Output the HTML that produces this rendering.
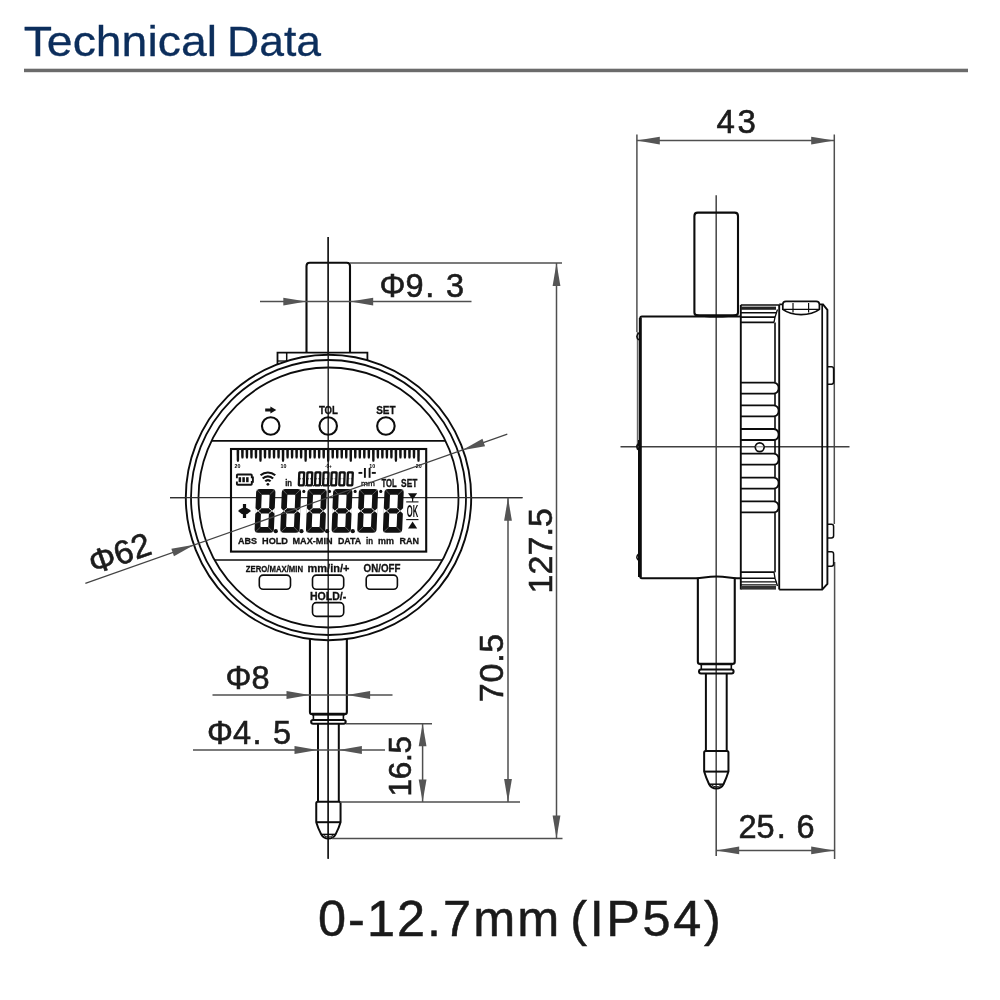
<!DOCTYPE html>
<html><head><meta charset="utf-8"><title>Technical Data</title>
<style>
html,body{margin:0;padding:0;background:#fff;}
body{width:1000px;height:1000px;overflow:hidden;font-family:"Liberation Sans",sans-serif;}
svg{display:block;font-family:"Liberation Sans",sans-serif;will-change:transform;}
</style></head><body>
<svg width="1000" height="1000" viewBox="0 0 1000 1000">
<text x="23.70" y="56.20" font-size="42.2" font-weight="normal" fill="#0c2e5c" text-anchor="start" textLength="193.3" lengthAdjust="spacingAndGlyphs" stroke="#0c2e5c" stroke-width="0.3">Technical</text>
<text x="227.00" y="56.20" font-size="42.2" font-weight="normal" fill="#0c2e5c" text-anchor="start" textLength="94.0" lengthAdjust="spacingAndGlyphs" stroke="#0c2e5c" stroke-width="0.3">Data</text>
<rect x="24" y="68.7" width="944" height="3.5" fill="#6b6b6b"/>
<text x="318.00" y="936.20" font-size="50.4" font-weight="normal" fill="#1a1a1a" text-anchor="start" textLength="241.2" lengthAdjust="spacing" stroke="#1a1a1a" stroke-width="0.5">0-12.7mm</text>
<text x="570.20" y="936.20" font-size="50.4" font-weight="normal" fill="#1a1a1a" text-anchor="start" textLength="150.6" lengthAdjust="spacing" stroke="#1a1a1a" stroke-width="0.5">(IP54)</text>
<line x1="328.20" y1="237.00" x2="328.20" y2="858.70" stroke="#1a1a1a" stroke-width="1.4" />
<line x1="170.00" y1="497.60" x2="522.50" y2="497.60" stroke="#303030" stroke-width="1.45" />
<path d="M306.5,352.3 V266 Q306.5,262.8 309.7,262.8 H346.8 Q350,262.8 350,266 V352.3" fill="none" stroke="#0c0c0c" stroke-width="2.1" />
<path d="M277.5,364 V352.6 H367.4 V361" fill="none" stroke="#0c0c0c" stroke-width="1.8" />
<line x1="286.70" y1="352.60" x2="286.70" y2="362.00" stroke="#0c0c0c" stroke-width="1.5" />
<line x1="277.50" y1="361.00" x2="286.00" y2="361.00" stroke="#0c0c0c" stroke-width="1.3" />
<circle cx="328.50" cy="497.50" r="142.70" fill="#fff" stroke="#0c0c0c" stroke-width="1.9"/>
<circle cx="328.50" cy="497.50" r="137.50" fill="none" stroke="#0c0c0c" stroke-width="1.8"/>
<circle cx="328.50" cy="497.50" r="130.00" fill="none" stroke="#0c0c0c" stroke-width="1.8"/>
<line x1="328.20" y1="237.00" x2="328.20" y2="858.70" stroke="#1a1a1a" stroke-width="1.4" />
<line x1="170.00" y1="497.60" x2="522.50" y2="497.60" stroke="#303030" stroke-width="1.45" />
<line x1="211.52" y1="440.80" x2="445.48" y2="440.80" stroke="#0c0c0c" stroke-width="1.7" />
<line x1="214.51" y1="560.00" x2="442.49" y2="560.00" stroke="#0c0c0c" stroke-width="1.7" />
<circle cx="270.70" cy="426.00" r="8.75" fill="none" stroke="#0c0c0c" stroke-width="2.1"/>
<circle cx="328.20" cy="426.00" r="8.75" fill="none" stroke="#0c0c0c" stroke-width="2.1"/>
<circle cx="385.90" cy="426.00" r="8.75" fill="none" stroke="#0c0c0c" stroke-width="2.1"/>
<text x="318.90" y="413.90" font-size="11.2" font-weight="bold" fill="#111" text-anchor="start" textLength="19.1" lengthAdjust="spacingAndGlyphs" stroke="#111" stroke-width="0.3">TOL</text>
<text x="376.20" y="413.90" font-size="11.2" font-weight="bold" fill="#111" text-anchor="start" textLength="19.4" lengthAdjust="spacingAndGlyphs" stroke="#111" stroke-width="0.3">SET</text>
<polygon points="265.20,408.40 270.40,408.40 270.40,406.40 276.30,410.00 270.40,413.60 270.40,411.60 265.20,411.60" fill="#111" stroke="none" stroke-width="0"/>
<rect x="231.00" y="449.00" width="195.20" height="102.60" rx="0" fill="none" stroke="#0c0c0c" stroke-width="2.1"/>
<polygon points="236.60,449.00 239.20,449.00 239.10,460.10 238.70,461.70 237.10,461.70 236.70,460.10" fill="#111" stroke="none" stroke-width="0"/>
<polygon points="241.11,449.00 243.72,449.00 243.61,457.00 243.22,458.60 241.61,458.60 241.22,457.00" fill="#111" stroke="none" stroke-width="0"/>
<polygon points="245.63,449.00 248.23,449.00 248.13,457.00 247.73,458.60 246.13,458.60 245.73,457.00" fill="#111" stroke="none" stroke-width="0"/>
<polygon points="250.14,449.00 252.75,449.00 252.64,457.00 252.25,458.60 250.64,458.60 250.25,457.00" fill="#111" stroke="none" stroke-width="0"/>
<polygon points="254.66,449.00 257.26,449.00 257.16,457.00 256.76,458.60 255.16,458.60 254.76,457.00" fill="#111" stroke="none" stroke-width="0"/>
<polygon points="259.18,449.00 261.78,449.00 261.68,460.10 261.28,461.70 259.68,461.70 259.28,460.10" fill="#111" stroke="none" stroke-width="0"/>
<polygon points="263.69,449.00 266.29,449.00 266.19,457.00 265.79,458.60 264.19,458.60 263.79,457.00" fill="#111" stroke="none" stroke-width="0"/>
<polygon points="268.20,449.00 270.81,449.00 270.70,457.00 270.31,458.60 268.70,458.60 268.31,457.00" fill="#111" stroke="none" stroke-width="0"/>
<polygon points="272.72,449.00 275.32,449.00 275.22,457.00 274.82,458.60 273.22,458.60 272.82,457.00" fill="#111" stroke="none" stroke-width="0"/>
<polygon points="277.24,449.00 279.84,449.00 279.74,457.00 279.34,458.60 277.74,458.60 277.34,457.00" fill="#111" stroke="none" stroke-width="0"/>
<polygon points="281.75,449.00 284.35,449.00 284.25,460.10 283.85,461.70 282.25,461.70 281.85,460.10" fill="#111" stroke="none" stroke-width="0"/>
<polygon points="286.26,449.00 288.87,449.00 288.76,457.00 288.37,458.60 286.76,458.60 286.37,457.00" fill="#111" stroke="none" stroke-width="0"/>
<polygon points="290.78,449.00 293.38,449.00 293.28,457.00 292.88,458.60 291.28,458.60 290.88,457.00" fill="#111" stroke="none" stroke-width="0"/>
<polygon points="295.30,449.00 297.90,449.00 297.80,457.00 297.40,458.60 295.80,458.60 295.40,457.00" fill="#111" stroke="none" stroke-width="0"/>
<polygon points="299.81,449.00 302.41,449.00 302.31,457.00 301.91,458.60 300.31,458.60 299.91,457.00" fill="#111" stroke="none" stroke-width="0"/>
<polygon points="304.32,449.00 306.93,449.00 306.82,460.10 306.43,461.70 304.82,461.70 304.43,460.10" fill="#111" stroke="none" stroke-width="0"/>
<polygon points="308.84,449.00 311.44,449.00 311.34,457.00 310.94,458.60 309.34,458.60 308.94,457.00" fill="#111" stroke="none" stroke-width="0"/>
<polygon points="313.35,449.00 315.95,449.00 315.85,457.00 315.45,458.60 313.85,458.60 313.45,457.00" fill="#111" stroke="none" stroke-width="0"/>
<polygon points="317.87,449.00 320.47,449.00 320.37,457.00 319.97,458.60 318.37,458.60 317.97,457.00" fill="#111" stroke="none" stroke-width="0"/>
<polygon points="322.38,449.00 324.99,449.00 324.88,457.00 324.49,458.60 322.88,458.60 322.49,457.00" fill="#111" stroke="none" stroke-width="0"/>
<polygon points="326.90,449.00 329.50,449.00 329.40,460.10 329.00,461.70 327.40,461.70 327.00,460.10" fill="#111" stroke="none" stroke-width="0"/>
<polygon points="331.42,449.00 334.02,449.00 333.92,457.00 333.52,458.60 331.92,458.60 331.52,457.00" fill="#111" stroke="none" stroke-width="0"/>
<polygon points="335.93,449.00 338.53,449.00 338.43,457.00 338.03,458.60 336.43,458.60 336.03,457.00" fill="#111" stroke="none" stroke-width="0"/>
<polygon points="340.44,449.00 343.05,449.00 342.94,457.00 342.55,458.60 340.94,458.60 340.55,457.00" fill="#111" stroke="none" stroke-width="0"/>
<polygon points="344.96,449.00 347.56,449.00 347.46,457.00 347.06,458.60 345.46,458.60 345.06,457.00" fill="#111" stroke="none" stroke-width="0"/>
<polygon points="349.47,449.00 352.07,449.00 351.97,460.10 351.57,461.70 349.97,461.70 349.57,460.10" fill="#111" stroke="none" stroke-width="0"/>
<polygon points="353.99,449.00 356.59,449.00 356.49,457.00 356.09,458.60 354.49,458.60 354.09,457.00" fill="#111" stroke="none" stroke-width="0"/>
<polygon points="358.50,449.00 361.11,449.00 361.00,457.00 360.61,458.60 359.00,458.60 358.61,457.00" fill="#111" stroke="none" stroke-width="0"/>
<polygon points="363.02,449.00 365.62,449.00 365.52,457.00 365.12,458.60 363.52,458.60 363.12,457.00" fill="#111" stroke="none" stroke-width="0"/>
<polygon points="367.54,449.00 370.14,449.00 370.04,457.00 369.64,458.60 368.04,458.60 367.64,457.00" fill="#111" stroke="none" stroke-width="0"/>
<polygon points="372.05,449.00 374.65,449.00 374.55,460.10 374.15,461.70 372.55,461.70 372.15,460.10" fill="#111" stroke="none" stroke-width="0"/>
<polygon points="376.56,449.00 379.17,449.00 379.06,457.00 378.67,458.60 377.06,458.60 376.67,457.00" fill="#111" stroke="none" stroke-width="0"/>
<polygon points="381.08,449.00 383.68,449.00 383.58,457.00 383.18,458.60 381.58,458.60 381.18,457.00" fill="#111" stroke="none" stroke-width="0"/>
<polygon points="385.59,449.00 388.19,449.00 388.09,457.00 387.69,458.60 386.09,458.60 385.69,457.00" fill="#111" stroke="none" stroke-width="0"/>
<polygon points="390.11,449.00 392.71,449.00 392.61,457.00 392.21,458.60 390.61,458.60 390.21,457.00" fill="#111" stroke="none" stroke-width="0"/>
<polygon points="394.62,449.00 397.22,449.00 397.12,460.10 396.72,461.70 395.12,461.70 394.72,460.10" fill="#111" stroke="none" stroke-width="0"/>
<polygon points="399.14,449.00 401.74,449.00 401.64,457.00 401.24,458.60 399.64,458.60 399.24,457.00" fill="#111" stroke="none" stroke-width="0"/>
<polygon points="403.65,449.00 406.25,449.00 406.15,457.00 405.75,458.60 404.15,458.60 403.75,457.00" fill="#111" stroke="none" stroke-width="0"/>
<polygon points="408.17,449.00 410.77,449.00 410.67,457.00 410.27,458.60 408.67,458.60 408.27,457.00" fill="#111" stroke="none" stroke-width="0"/>
<polygon points="412.69,449.00 415.29,449.00 415.19,457.00 414.79,458.60 413.19,458.60 412.79,457.00" fill="#111" stroke="none" stroke-width="0"/>
<polygon points="417.20,449.00 419.80,449.00 419.70,460.10 419.30,461.70 417.70,461.70 417.30,460.10" fill="#111" stroke="none" stroke-width="0"/>
<text x="237.40" y="468.30" font-size="5.3" font-weight="bold" fill="#000" text-anchor="middle" >20</text>
<text x="283.40" y="468.30" font-size="5.3" font-weight="bold" fill="#000" text-anchor="middle" >10</text>
<text x="372.30" y="468.30" font-size="5.3" font-weight="bold" fill="#000" text-anchor="middle" >10</text>
<text x="418.80" y="468.30" font-size="5.3" font-weight="bold" fill="#000" text-anchor="middle" >20</text>
<text x="328.40" y="468.20" font-size="4.6" font-weight="bold" fill="#000" text-anchor="middle" >-0+</text>
<g transform="translate(254.50 532.80) skewX(-2.29) translate(-254.50 -532.80)">
<rect x="254.50" y="489.00" width="19.30" height="43.80" rx="3.6" fill="#111"/>
<rect x="260.20" y="494.70" width="7.90" height="13.60" rx="0.8" fill="#fff"/>
<rect x="260.20" y="513.50" width="7.90" height="13.60" rx="0.8" fill="#fff"/>
<line x1="255.10" y1="489.60" x2="260.20" y2="494.70" stroke="#9a9a9a" stroke-width="0.5"/>
<line x1="273.20" y1="489.60" x2="268.10" y2="494.70" stroke="#9a9a9a" stroke-width="0.5"/>
<line x1="255.10" y1="532.20" x2="260.20" y2="527.10" stroke="#9a9a9a" stroke-width="0.5"/>
<line x1="273.20" y1="532.20" x2="268.10" y2="527.10" stroke="#9a9a9a" stroke-width="0.5"/>
<polygon points="254.30,508.05 257.35,510.90 254.30,513.75" fill="#fff" stroke="none" stroke-width="0"/>
<polygon points="274.00,508.05 270.95,510.90 274.00,513.75" fill="#fff" stroke="none" stroke-width="0"/>
<line x1="257.15" y1="510.90" x2="260.50" y2="508.10" stroke="#f4f4f4" stroke-width="0.85"/>
<line x1="257.15" y1="510.90" x2="260.50" y2="513.70" stroke="#f4f4f4" stroke-width="0.85"/>
<line x1="271.15" y1="510.90" x2="267.80" y2="508.10" stroke="#f4f4f4" stroke-width="0.85"/>
<line x1="271.15" y1="510.90" x2="267.80" y2="513.70" stroke="#f4f4f4" stroke-width="0.85"/>
</g>
<circle cx="275.80" cy="531.20" r="2.10" fill="#111" stroke="#0c0c0c" stroke-width="0"/>
<g transform="translate(280.16 532.80) skewX(-2.29) translate(-280.16 -532.80)">
<rect x="280.16" y="489.00" width="19.30" height="43.80" rx="3.6" fill="#111"/>
<rect x="285.86" y="494.70" width="7.90" height="13.60" rx="0.8" fill="#fff"/>
<rect x="285.86" y="513.50" width="7.90" height="13.60" rx="0.8" fill="#fff"/>
<line x1="280.76" y1="489.60" x2="285.86" y2="494.70" stroke="#9a9a9a" stroke-width="0.5"/>
<line x1="298.86" y1="489.60" x2="293.76" y2="494.70" stroke="#9a9a9a" stroke-width="0.5"/>
<line x1="280.76" y1="532.20" x2="285.86" y2="527.10" stroke="#9a9a9a" stroke-width="0.5"/>
<line x1="298.86" y1="532.20" x2="293.76" y2="527.10" stroke="#9a9a9a" stroke-width="0.5"/>
<polygon points="279.96,508.05 283.01,510.90 279.96,513.75" fill="#fff" stroke="none" stroke-width="0"/>
<polygon points="299.66,508.05 296.61,510.90 299.66,513.75" fill="#fff" stroke="none" stroke-width="0"/>
<line x1="282.81" y1="510.90" x2="286.16" y2="508.10" stroke="#f4f4f4" stroke-width="0.85"/>
<line x1="282.81" y1="510.90" x2="286.16" y2="513.70" stroke="#f4f4f4" stroke-width="0.85"/>
<line x1="296.81" y1="510.90" x2="293.46" y2="508.10" stroke="#f4f4f4" stroke-width="0.85"/>
<line x1="296.81" y1="510.90" x2="293.46" y2="513.70" stroke="#f4f4f4" stroke-width="0.85"/>
</g>
<circle cx="301.46" cy="531.20" r="2.10" fill="#111" stroke="#0c0c0c" stroke-width="0"/>
<g transform="translate(305.82 532.80) skewX(-2.29) translate(-305.82 -532.80)">
<rect x="305.82" y="489.00" width="19.30" height="43.80" rx="3.6" fill="#111"/>
<rect x="311.52" y="494.70" width="7.90" height="13.60" rx="0.8" fill="#fff"/>
<rect x="311.52" y="513.50" width="7.90" height="13.60" rx="0.8" fill="#fff"/>
<line x1="306.42" y1="489.60" x2="311.52" y2="494.70" stroke="#9a9a9a" stroke-width="0.5"/>
<line x1="324.52" y1="489.60" x2="319.42" y2="494.70" stroke="#9a9a9a" stroke-width="0.5"/>
<line x1="306.42" y1="532.20" x2="311.52" y2="527.10" stroke="#9a9a9a" stroke-width="0.5"/>
<line x1="324.52" y1="532.20" x2="319.42" y2="527.10" stroke="#9a9a9a" stroke-width="0.5"/>
<polygon points="305.62,508.05 308.67,510.90 305.62,513.75" fill="#fff" stroke="none" stroke-width="0"/>
<polygon points="325.32,508.05 322.27,510.90 325.32,513.75" fill="#fff" stroke="none" stroke-width="0"/>
<line x1="308.47" y1="510.90" x2="311.82" y2="508.10" stroke="#f4f4f4" stroke-width="0.85"/>
<line x1="308.47" y1="510.90" x2="311.82" y2="513.70" stroke="#f4f4f4" stroke-width="0.85"/>
<line x1="322.47" y1="510.90" x2="319.12" y2="508.10" stroke="#f4f4f4" stroke-width="0.85"/>
<line x1="322.47" y1="510.90" x2="319.12" y2="513.70" stroke="#f4f4f4" stroke-width="0.85"/>
</g>
<circle cx="327.12" cy="531.20" r="2.10" fill="#111" stroke="#0c0c0c" stroke-width="0"/>
<circle cx="303.82" cy="491.40" r="1.55" fill="#111" stroke="#0c0c0c" stroke-width="0"/>
<g transform="translate(331.48 532.80) skewX(-2.29) translate(-331.48 -532.80)">
<rect x="331.48" y="489.00" width="19.30" height="43.80" rx="3.6" fill="#111"/>
<rect x="337.18" y="494.70" width="7.90" height="13.60" rx="0.8" fill="#fff"/>
<rect x="337.18" y="513.50" width="7.90" height="13.60" rx="0.8" fill="#fff"/>
<line x1="332.08" y1="489.60" x2="337.18" y2="494.70" stroke="#9a9a9a" stroke-width="0.5"/>
<line x1="350.18" y1="489.60" x2="345.08" y2="494.70" stroke="#9a9a9a" stroke-width="0.5"/>
<line x1="332.08" y1="532.20" x2="337.18" y2="527.10" stroke="#9a9a9a" stroke-width="0.5"/>
<line x1="350.18" y1="532.20" x2="345.08" y2="527.10" stroke="#9a9a9a" stroke-width="0.5"/>
<polygon points="331.28,508.05 334.33,510.90 331.28,513.75" fill="#fff" stroke="none" stroke-width="0"/>
<polygon points="350.98,508.05 347.93,510.90 350.98,513.75" fill="#fff" stroke="none" stroke-width="0"/>
<line x1="334.13" y1="510.90" x2="337.48" y2="508.10" stroke="#f4f4f4" stroke-width="0.85"/>
<line x1="334.13" y1="510.90" x2="337.48" y2="513.70" stroke="#f4f4f4" stroke-width="0.85"/>
<line x1="348.13" y1="510.90" x2="344.78" y2="508.10" stroke="#f4f4f4" stroke-width="0.85"/>
<line x1="348.13" y1="510.90" x2="344.78" y2="513.70" stroke="#f4f4f4" stroke-width="0.85"/>
</g>
<circle cx="352.78" cy="531.20" r="2.10" fill="#111" stroke="#0c0c0c" stroke-width="0"/>
<circle cx="329.48" cy="491.40" r="1.55" fill="#111" stroke="#0c0c0c" stroke-width="0"/>
<g transform="translate(357.14 532.80) skewX(-2.29) translate(-357.14 -532.80)">
<rect x="357.14" y="489.00" width="19.30" height="43.80" rx="3.6" fill="#111"/>
<rect x="362.84" y="494.70" width="7.90" height="13.60" rx="0.8" fill="#fff"/>
<rect x="362.84" y="513.50" width="7.90" height="13.60" rx="0.8" fill="#fff"/>
<line x1="357.74" y1="489.60" x2="362.84" y2="494.70" stroke="#9a9a9a" stroke-width="0.5"/>
<line x1="375.84" y1="489.60" x2="370.74" y2="494.70" stroke="#9a9a9a" stroke-width="0.5"/>
<line x1="357.74" y1="532.20" x2="362.84" y2="527.10" stroke="#9a9a9a" stroke-width="0.5"/>
<line x1="375.84" y1="532.20" x2="370.74" y2="527.10" stroke="#9a9a9a" stroke-width="0.5"/>
<polygon points="356.94,508.05 359.99,510.90 356.94,513.75" fill="#fff" stroke="none" stroke-width="0"/>
<polygon points="376.64,508.05 373.59,510.90 376.64,513.75" fill="#fff" stroke="none" stroke-width="0"/>
<line x1="359.79" y1="510.90" x2="363.14" y2="508.10" stroke="#f4f4f4" stroke-width="0.85"/>
<line x1="359.79" y1="510.90" x2="363.14" y2="513.70" stroke="#f4f4f4" stroke-width="0.85"/>
<line x1="373.79" y1="510.90" x2="370.44" y2="508.10" stroke="#f4f4f4" stroke-width="0.85"/>
<line x1="373.79" y1="510.90" x2="370.44" y2="513.70" stroke="#f4f4f4" stroke-width="0.85"/>
</g>
<circle cx="355.14" cy="491.40" r="1.55" fill="#111" stroke="#0c0c0c" stroke-width="0"/>
<g transform="translate(382.80 532.80) skewX(-2.29) translate(-382.80 -532.80)">
<rect x="382.80" y="489.00" width="19.30" height="43.80" rx="3.6" fill="#111"/>
<rect x="388.50" y="494.70" width="7.90" height="13.60" rx="0.8" fill="#fff"/>
<rect x="388.50" y="513.50" width="7.90" height="13.60" rx="0.8" fill="#fff"/>
<line x1="383.40" y1="489.60" x2="388.50" y2="494.70" stroke="#9a9a9a" stroke-width="0.5"/>
<line x1="401.50" y1="489.60" x2="396.40" y2="494.70" stroke="#9a9a9a" stroke-width="0.5"/>
<line x1="383.40" y1="532.20" x2="388.50" y2="527.10" stroke="#9a9a9a" stroke-width="0.5"/>
<line x1="401.50" y1="532.20" x2="396.40" y2="527.10" stroke="#9a9a9a" stroke-width="0.5"/>
<polygon points="382.60,508.05 385.65,510.90 382.60,513.75" fill="#fff" stroke="none" stroke-width="0"/>
<polygon points="402.30,508.05 399.25,510.90 402.30,513.75" fill="#fff" stroke="none" stroke-width="0"/>
<line x1="385.45" y1="510.90" x2="388.80" y2="508.10" stroke="#f4f4f4" stroke-width="0.85"/>
<line x1="385.45" y1="510.90" x2="388.80" y2="513.70" stroke="#f4f4f4" stroke-width="0.85"/>
<line x1="399.45" y1="510.90" x2="396.10" y2="508.10" stroke="#f4f4f4" stroke-width="0.85"/>
<line x1="399.45" y1="510.90" x2="396.10" y2="513.70" stroke="#f4f4f4" stroke-width="0.85"/>
</g>
<circle cx="380.80" cy="491.40" r="1.55" fill="#111" stroke="#0c0c0c" stroke-width="0"/>
<g transform="translate(297.60 486.4) skewX(-2.3) translate(-297.60 -486.4)">
<rect x="297.60" y="471.2" width="7.2" height="15.2" rx="1.6" fill="#111"/>
<rect x="299.90" y="473.4" width="2.60" height="10.80" rx="0.5" fill="#fff"/>
<polygon points="299.80,477.80 300.60,478.80 299.80,479.80" fill="#111" stroke="none" stroke-width="0"/>
<polygon points="302.60,477.80 301.80,478.80 302.60,479.80" fill="#111" stroke="none" stroke-width="0"/>
</g>
<circle cx="305.30" cy="485.70" r="0.70" fill="#111" stroke="#0c0c0c" stroke-width="0"/>
<g transform="translate(305.70 486.4) skewX(-2.3) translate(-305.70 -486.4)">
<rect x="305.70" y="471.2" width="7.2" height="15.2" rx="1.6" fill="#111"/>
<rect x="308.00" y="473.4" width="2.60" height="10.80" rx="0.5" fill="#fff"/>
<polygon points="307.90,477.80 308.70,478.80 307.90,479.80" fill="#111" stroke="none" stroke-width="0"/>
<polygon points="310.70,477.80 309.90,478.80 310.70,479.80" fill="#111" stroke="none" stroke-width="0"/>
</g>
<circle cx="313.40" cy="485.70" r="0.70" fill="#111" stroke="#0c0c0c" stroke-width="0"/>
<g transform="translate(313.80 486.4) skewX(-2.3) translate(-313.80 -486.4)">
<rect x="313.80" y="471.2" width="7.2" height="15.2" rx="1.6" fill="#111"/>
<rect x="316.10" y="473.4" width="2.60" height="10.80" rx="0.5" fill="#fff"/>
<polygon points="316.00,477.80 316.80,478.80 316.00,479.80" fill="#111" stroke="none" stroke-width="0"/>
<polygon points="318.80,477.80 318.00,478.80 318.80,479.80" fill="#111" stroke="none" stroke-width="0"/>
</g>
<circle cx="321.50" cy="485.70" r="0.70" fill="#111" stroke="#0c0c0c" stroke-width="0"/>
<g transform="translate(321.90 486.4) skewX(-2.3) translate(-321.90 -486.4)">
<rect x="321.90" y="471.2" width="7.2" height="15.2" rx="1.6" fill="#111"/>
<rect x="324.20" y="473.4" width="2.60" height="10.80" rx="0.5" fill="#fff"/>
<polygon points="324.10,477.80 324.90,478.80 324.10,479.80" fill="#111" stroke="none" stroke-width="0"/>
<polygon points="326.90,477.80 326.10,478.80 326.90,479.80" fill="#111" stroke="none" stroke-width="0"/>
</g>
<circle cx="329.60" cy="485.70" r="0.70" fill="#111" stroke="#0c0c0c" stroke-width="0"/>
<g transform="translate(330.00 486.4) skewX(-2.3) translate(-330.00 -486.4)">
<rect x="330.00" y="471.2" width="7.2" height="15.2" rx="1.6" fill="#111"/>
<rect x="332.30" y="473.4" width="2.60" height="10.80" rx="0.5" fill="#fff"/>
<polygon points="332.20,477.80 333.00,478.80 332.20,479.80" fill="#111" stroke="none" stroke-width="0"/>
<polygon points="335.00,477.80 334.20,478.80 335.00,479.80" fill="#111" stroke="none" stroke-width="0"/>
</g>
<g transform="translate(338.10 486.4) skewX(-2.3) translate(-338.10 -486.4)">
<rect x="338.10" y="471.2" width="7.2" height="15.2" rx="1.6" fill="#111"/>
<rect x="340.40" y="473.4" width="2.60" height="10.80" rx="0.5" fill="#fff"/>
<polygon points="340.30,477.80 341.10,478.80 340.30,479.80" fill="#111" stroke="none" stroke-width="0"/>
<polygon points="343.10,477.80 342.30,478.80 343.10,479.80" fill="#111" stroke="none" stroke-width="0"/>
</g>
<g transform="translate(346.20 486.4) skewX(-2.3) translate(-346.20 -486.4)">
<rect x="346.20" y="471.2" width="7.2" height="15.2" rx="1.6" fill="#111"/>
<rect x="348.50" y="473.4" width="2.60" height="10.80" rx="0.5" fill="#fff"/>
<polygon points="348.40,477.80 349.20,478.80 348.40,479.80" fill="#111" stroke="none" stroke-width="0"/>
<polygon points="351.20,477.80 350.40,478.80 351.20,479.80" fill="#111" stroke="none" stroke-width="0"/>
</g>
<text x="238.00" y="544.20" font-size="9.9" font-weight="bold" fill="#111" text-anchor="start" textLength="19.0" lengthAdjust="spacingAndGlyphs" stroke="#111" stroke-width="0.3">ABS</text>
<text x="262.00" y="544.20" font-size="9.9" font-weight="bold" fill="#111" text-anchor="start" textLength="26.0" lengthAdjust="spacingAndGlyphs" stroke="#111" stroke-width="0.3">HOLD</text>
<text x="292.50" y="544.20" font-size="9.9" font-weight="bold" fill="#111" text-anchor="start" textLength="40.0" lengthAdjust="spacingAndGlyphs" stroke="#111" stroke-width="0.3">MAX-MIN</text>
<text x="338.00" y="544.20" font-size="9.9" font-weight="bold" fill="#111" text-anchor="start" textLength="23.2" lengthAdjust="spacingAndGlyphs" stroke="#111" stroke-width="0.3">DATA</text>
<text x="366.00" y="544.20" font-size="9.9" font-weight="bold" fill="#111" text-anchor="start" textLength="7.0" lengthAdjust="spacingAndGlyphs" stroke="#111" stroke-width="0.3">in</text>
<text x="378.00" y="544.20" font-size="9.9" font-weight="bold" fill="#111" text-anchor="start" textLength="16.0" lengthAdjust="spacingAndGlyphs" stroke="#111" stroke-width="0.3">mm</text>
<text x="399.50" y="544.20" font-size="9.9" font-weight="bold" fill="#111" text-anchor="start" textLength="19.5" lengthAdjust="spacingAndGlyphs" stroke="#111" stroke-width="0.3">RAN</text>
<text x="285.20" y="486.40" font-size="8.8" font-weight="bold" fill="#111" text-anchor="start" textLength="6.8" lengthAdjust="spacingAndGlyphs" stroke="#111" stroke-width="0.3">in</text>
<text x="381.50" y="486.50" font-size="10.3" font-weight="bold" fill="#111" text-anchor="start" textLength="15.3" lengthAdjust="spacingAndGlyphs" stroke="#111" stroke-width="0.3">TOL</text>
<text x="401.10" y="486.50" font-size="10.3" font-weight="bold" fill="#111" text-anchor="start" textLength="16.3" lengthAdjust="spacingAndGlyphs" stroke="#111" stroke-width="0.3">SET</text>
<text x="361.00" y="485.90" font-size="8.0" font-weight="normal" fill="#111" text-anchor="start" textLength="13.8" lengthAdjust="spacingAndGlyphs" stroke="#111" stroke-width="0.3">mm</text>
<line x1="358.50" y1="472.90" x2="362.30" y2="472.90" stroke="#111" stroke-width="1.9" />
<line x1="371.80" y1="472.90" x2="375.80" y2="472.90" stroke="#111" stroke-width="1.9" />
<line x1="364.90" y1="468.00" x2="364.90" y2="477.80" stroke="#111" stroke-width="1.9" />
<line x1="369.60" y1="468.00" x2="369.60" y2="477.80" stroke="#111" stroke-width="1.9" />
<path d="M236.9,478.2 V475.3 Q236.9,474.5 237.7,474.5 H251.0 Q251.8,474.5 251.8,475.3 V477.4 H252.9 V481.9 H251.8 V484.0 Q251.8,484.8 251.0,484.8 H237.7 Q236.9,484.8 236.9,484.0 V481.4" fill="none" stroke="#111" stroke-width="1.9" />
<rect x="238.60" y="477.2" width="2.5" height="5.0" fill="#111"/>
<rect x="242.35" y="477.2" width="2.5" height="5.0" fill="#111"/>
<rect x="246.10" y="477.2" width="2.5" height="5.0" fill="#111"/>
<path d="M265.26,481.38 A3.45,3.45 0 0 1 270.54,481.38" fill="none" stroke="#111" stroke-width="2.1" />
<path d="M262.68,478.56 A7.25,7.25 0 0 1 273.12,478.56" fill="none" stroke="#111" stroke-width="2.1" />
<path d="M260.54,475.29 A11.1,11.1 0 0 1 275.26,475.29" fill="none" stroke="#111" stroke-width="2.1" />
<circle cx="267.90" cy="484.30" r="1.40" fill="#111" stroke="#0c0c0c" stroke-width="0"/>
<rect x="242.90" y="504.00" width="3.2" height="14" fill="#111"/>
<path d="M238.0,511.0 Q241.3,507.5 244.5,507.5 Q247.7,507.5 251.0,511.0 Q247.7,514.5 244.5,514.5 Q241.3,514.5 238.0,511.0 Z" fill="#111" stroke="#0c0c0c" stroke-width="0" />
<polygon points="408.00,493.30 417.20,493.30 412.60,499.80" fill="#111" stroke="none" stroke-width="0"/>
<line x1="412.60" y1="499.00" x2="412.60" y2="501.80" stroke="#111" stroke-width="1.2" />
<line x1="406.20" y1="501.90" x2="418.50" y2="501.90" stroke="#111" stroke-width="1.1" />
<text x="412.50" y="516.70" font-size="15.8" font-weight="bold" fill="#111" text-anchor="middle" textLength="11.4" lengthAdjust="spacingAndGlyphs" >OK</text>
<line x1="406.20" y1="519.60" x2="418.50" y2="519.60" stroke="#111" stroke-width="1.1" />
<polygon points="408.00,528.60 417.20,528.60 412.60,521.60" fill="#111" stroke="none" stroke-width="0"/>
<text x="245.80" y="571.70" font-size="9.8" font-weight="bold" fill="#111" text-anchor="start" textLength="57.2" lengthAdjust="spacingAndGlyphs" stroke="#111" stroke-width="0.3">ZERO/MAX/MIN</text>
<text x="307.50" y="571.70" font-size="10.6" font-weight="bold" fill="#111" text-anchor="start" textLength="41.9" lengthAdjust="spacingAndGlyphs" stroke="#111" stroke-width="0.3">mm/in/+</text>
<text x="363.60" y="571.70" font-size="10.4" font-weight="bold" fill="#111" text-anchor="start" textLength="36.8" lengthAdjust="spacingAndGlyphs" stroke="#111" stroke-width="0.3">ON/OFF</text>
<text x="310.00" y="600.40" font-size="10.4" font-weight="bold" fill="#111" text-anchor="start" textLength="36.3" lengthAdjust="spacingAndGlyphs" stroke="#111" stroke-width="0.3">HOLD/-</text>
<rect x="259.30" y="575.10" width="31.20" height="14.20" rx="3.8" fill="none" stroke="#0c0c0c" stroke-width="1.6"/>
<rect x="312.50" y="575.10" width="31.20" height="14.20" rx="3.8" fill="none" stroke="#0c0c0c" stroke-width="1.6"/>
<rect x="366.20" y="575.10" width="31.20" height="14.20" rx="3.8" fill="none" stroke="#0c0c0c" stroke-width="1.6"/>
<rect x="312.50" y="602.60" width="31.20" height="13.80" rx="3.8" fill="none" stroke="#0c0c0c" stroke-width="1.6"/>
<path d="M309.95,638.4 V712.0 Q309.95,714.2 312.15,714.2 H344.65 Q346.84999999999997,714.2 346.84999999999997,712.0 V638.4" fill="none" stroke="#0c0c0c" stroke-width="2.1" />
<line x1="311.95" y1="714.20" x2="344.85" y2="714.20" stroke="#0c0c0c" stroke-width="2.7" />
<line x1="313.40" y1="714.20" x2="313.40" y2="720.00" stroke="#0c0c0c" stroke-width="1.6" />
<line x1="343.40" y1="714.20" x2="343.40" y2="720.00" stroke="#0c0c0c" stroke-width="1.6" />
<rect x="311.10" y="720.00" width="34.60" height="3.70" rx="2.0" fill="none" stroke="#0c0c0c" stroke-width="2.0"/>
<line x1="318.00" y1="723.70" x2="318.00" y2="801.70" stroke="#0c0c0c" stroke-width="2.0" />
<line x1="338.80" y1="723.70" x2="338.80" y2="801.70" stroke="#0c0c0c" stroke-width="2.0" />
<path d="M317.75,801.7 H339.04999999999995 Q340.54999999999995,801.7 340.54999999999995,803.2 V822.2 Q338.94999999999993,827.8000000000001 335.59999999999997,834.4 Q333.4,838.6 328.4,838.6 Q323.4,838.6 321.2,834.4 Q317.85,827.8000000000001 316.25,822.2 V803.2 Q316.25,801.7 317.75,801.7 Z" fill="none" stroke="#0c0c0c" stroke-width="2.0" />
<line x1="316.25" y1="822.20" x2="340.55" y2="822.20" stroke="#0c0c0c" stroke-width="2.0" />
<line x1="321.20" y1="834.40" x2="335.60" y2="834.40" stroke="#0c0c0c" stroke-width="1.5" />
<path d="M323.8,835.4 Q328.4,838.8 332.99999999999994,835.4" fill="none" stroke="#0c0c0c" stroke-width="1.0" />
<line x1="260.00" y1="301.60" x2="471.50" y2="301.60" stroke="#4f4f4f" stroke-width="1.5" />
<polygon points="306.30,301.60 283.30,297.70 283.30,305.50" fill="#555" stroke="none" stroke-width="0"/>
<polygon points="350.20,301.60 373.20,305.50 373.20,297.70" fill="#555" stroke="none" stroke-width="0"/>
<line x1="350.00" y1="262.90" x2="562.00" y2="262.90" stroke="#4f4f4f" stroke-width="1.5" />
<text x="379.50" y="296.60" font-size="32.5" font-weight="normal" fill="#1c1c1c" text-anchor="start"  stroke="#1c1c1c" stroke-width="0.6">Φ9</text>
<text x="425.20" y="296.60" font-size="32.5" font-weight="normal" fill="#1c1c1c" text-anchor="start"  stroke="#1c1c1c" stroke-width="0.6">.</text>
<text x="446.00" y="296.60" font-size="32.5" font-weight="normal" fill="#1c1c1c" text-anchor="start"  stroke="#1c1c1c" stroke-width="0.6">3</text>
<line x1="556.50" y1="263.00" x2="556.50" y2="838.20" stroke="#4f4f4f" stroke-width="1.5" />
<polygon points="556.50,263.00 552.60,286.00 560.40,286.00" fill="#555" stroke="none" stroke-width="0"/>
<polygon points="556.50,838.50 560.40,815.50 552.60,815.50" fill="#555" stroke="none" stroke-width="0"/>
<text x="552.20" y="593.60" font-size="34" font-weight="normal" fill="#1c1c1c" text-anchor="start" textLength="85.5" lengthAdjust="spacing" transform="rotate(-90 552.2 593.6)" stroke="#1c1c1c" stroke-width="0.6">127.5</text>
<line x1="508.00" y1="497.80" x2="508.00" y2="802.00" stroke="#4f4f4f" stroke-width="1.5" />
<polygon points="508.00,497.80 504.10,520.80 511.90,520.80" fill="#555" stroke="none" stroke-width="0"/>
<polygon points="508.00,802.00 511.90,779.00 504.10,779.00" fill="#555" stroke="none" stroke-width="0"/>
<text x="502.60" y="702.20" font-size="34" font-weight="normal" fill="#1c1c1c" text-anchor="start" textLength="68.5" lengthAdjust="spacing" transform="rotate(-90 502.6 702.2)" stroke="#1c1c1c" stroke-width="0.6">70.5</text>
<line x1="340.00" y1="802.00" x2="520.00" y2="802.00" stroke="#4f4f4f" stroke-width="1.5" />
<line x1="332.00" y1="838.50" x2="562.50" y2="838.50" stroke="#4f4f4f" stroke-width="1.5" />
<line x1="346.00" y1="723.70" x2="432.00" y2="723.70" stroke="#4f4f4f" stroke-width="1.5" />
<line x1="422.60" y1="723.70" x2="422.60" y2="802.00" stroke="#4f4f4f" stroke-width="1.5" />
<polygon points="422.60,723.70 418.70,746.20 426.50,746.20" fill="#555" stroke="none" stroke-width="0"/>
<polygon points="422.60,802.00 426.50,779.50 418.70,779.50" fill="#555" stroke="none" stroke-width="0"/>
<text x="410.80" y="796.40" font-size="31.5" font-weight="normal" fill="#1c1c1c" text-anchor="start" textLength="60.5" lengthAdjust="spacing" transform="rotate(-90 410.8 796.4)" stroke="#1c1c1c" stroke-width="0.6">16.5</text>
<line x1="212.50" y1="695.00" x2="392.50" y2="695.00" stroke="#4f4f4f" stroke-width="1.5" />
<polygon points="309.50,695.00 286.50,691.10 286.50,698.90" fill="#555" stroke="none" stroke-width="0"/>
<polygon points="347.10,695.00 370.10,698.90 370.10,691.10" fill="#555" stroke="none" stroke-width="0"/>
<text x="225.50" y="688.60" font-size="32.5" font-weight="normal" fill="#1c1c1c" text-anchor="start"  stroke="#1c1c1c" stroke-width="0.6">Φ8</text>
<line x1="193.00" y1="750.00" x2="385.00" y2="750.00" stroke="#4f4f4f" stroke-width="1.5" />
<polygon points="317.50,750.00 294.50,746.10 294.50,753.90" fill="#555" stroke="none" stroke-width="0"/>
<polygon points="338.90,750.00 361.90,753.90 361.90,746.10" fill="#555" stroke="none" stroke-width="0"/>
<text x="207.00" y="743.60" font-size="32.5" font-weight="normal" fill="#1c1c1c" text-anchor="start"  stroke="#1c1c1c" stroke-width="0.6">Φ4</text>
<text x="252.40" y="743.60" font-size="32.5" font-weight="normal" fill="#1c1c1c" text-anchor="start"  stroke="#1c1c1c" stroke-width="0.6">.</text>
<text x="273.00" y="743.60" font-size="32.5" font-weight="normal" fill="#1c1c1c" text-anchor="start"  stroke="#1c1c1c" stroke-width="0.6">5</text>
<line x1="85.35" y1="583.41" x2="507.32" y2="434.13" stroke="#444" stroke-width="1.2" />
<polygon points="194.33,544.86 171.35,548.85 173.95,556.21" fill="#555" stroke="none" stroke-width="0"/>
<polygon points="462.07,450.14 485.05,446.15 482.45,438.79" fill="#555" stroke="none" stroke-width="0"/>
<text x="93.50" y="574.80" font-size="33.3" font-weight="normal" fill="#1c1c1c" text-anchor="start" transform="rotate(-19.482434262602254 93.5 574.8)" stroke="#1c1c1c" stroke-width="0.6">Φ62</text>
<line x1="636.90" y1="134.40" x2="636.90" y2="332.00" stroke="#4f4f4f" stroke-width="1.5" />
<line x1="637.60" y1="332.00" x2="637.60" y2="450.00" stroke="#6a6a6a" stroke-width="1.6" />
<line x1="638.90" y1="440.00" x2="638.90" y2="577.00" stroke="#0c0c0c" stroke-width="1.8" />
<line x1="834.30" y1="134.40" x2="834.30" y2="524.00" stroke="#4f4f4f" stroke-width="1.5" />
<line x1="834.60" y1="562.00" x2="834.60" y2="859.00" stroke="#4f4f4f" stroke-width="1.5" />
<line x1="636.80" y1="140.60" x2="834.20" y2="140.60" stroke="#4f4f4f" stroke-width="1.5" />
<polygon points="636.80,140.60 659.80,144.50 659.80,136.70" fill="#555" stroke="none" stroke-width="0"/>
<polygon points="834.20,140.60 811.20,136.70 811.20,144.50" fill="#555" stroke="none" stroke-width="0"/>
<text x="716.60" y="133.30" font-size="33" font-weight="normal" fill="#1c1c1c" text-anchor="start" textLength="39.2" lengthAdjust="spacing"  stroke="#1c1c1c" stroke-width="0.6">43</text>
<line x1="716.20" y1="195.20" x2="716.20" y2="856.00" stroke="#4a4a4a" stroke-width="1.55" />
<line x1="620.50" y1="446.80" x2="849.50" y2="446.80" stroke="#404040" stroke-width="1.45" />
<path d="M697.4,315.2 Q694.4,315.2 694.4,312.4 V216 Q694.4,212.6 697.8,212.6 H734.6 Q738,212.6 738,216 V312.4 Q738,315.2 735,315.2 Z" fill="none" stroke="#0c0c0c" stroke-width="2.1" />
<path d="M695.6,314.6 A24,4.6 0 0 0 736.8,314.6" fill="none" stroke="#0c0c0c" stroke-width="1.5" />
<path d="M740.6,316.6 H642 Q640.2,316.6 640.2,318.6 V576.2 Q640.2,578.2 642,578.2 H696 C703,578.2 706,576.5 716.6,576.5 C727,576.5 730,578.2 737,578.2 H740.8" fill="none" stroke="#0c0c0c" stroke-width="2.0" />
<line x1="640.30" y1="318.00" x2="640.30" y2="577.00" stroke="#0c0c0c" stroke-width="2.9" />
<path d="M639,332.79999999999995 Q634.6,336.4 639,340.0" fill="none" stroke="#0c0c0c" stroke-width="1.5" />
<path d="M639,443.2 Q634.6,446.8 639,450.40000000000003" fill="none" stroke="#0c0c0c" stroke-width="1.5" />
<path d="M639,553.6 Q634.6,557.2 639,560.8000000000001" fill="none" stroke="#0c0c0c" stroke-width="1.5" />
<line x1="740.80" y1="305.00" x2="740.80" y2="589.60" stroke="#0c0c0c" stroke-width="1.9" />
<line x1="779.20" y1="305.00" x2="779.20" y2="589.60" stroke="#0c0c0c" stroke-width="1.9" />
<line x1="740.80" y1="305.00" x2="779.20" y2="305.00" stroke="#0c0c0c" stroke-width="1.6" />
<rect x="740.8" y="306.6" width="35.20" height="3.2" fill="#222"/>
<line x1="740.80" y1="312.80" x2="776.50" y2="312.80" stroke="#0c0c0c" stroke-width="1.4" />
<line x1="740.80" y1="317.20" x2="775.00" y2="317.20" stroke="#0c0c0c" stroke-width="1.8" />
<line x1="740.80" y1="322.40" x2="774.00" y2="322.40" stroke="#0c0c0c" stroke-width="1.8" />
<path d="M777.5,309.5 L775.0,317.2 L774.0,322.4" fill="none" stroke="#0c0c0c" stroke-width="1.3" />
<line x1="740.80" y1="572.20" x2="774.00" y2="572.20" stroke="#0c0c0c" stroke-width="1.8" />
<line x1="740.80" y1="578.20" x2="775.00" y2="578.20" stroke="#0c0c0c" stroke-width="1.5" />
<line x1="740.80" y1="581.80" x2="776.50" y2="581.80" stroke="#0c0c0c" stroke-width="1.3" />
<line x1="740.80" y1="584.80" x2="776.50" y2="584.80" stroke="#0c0c0c" stroke-width="1.2" />
<rect x="740.8" y="586" width="35.20" height="3.6" fill="#333"/>
<path d="M774.0,572.2 L775.0,578.2 L777.5,586" fill="none" stroke="#0c0c0c" stroke-width="1.3" />
<line x1="775.00" y1="322.40" x2="775.00" y2="382.60" stroke="#0c0c0c" stroke-width="1.6" />
<path d="M740.8,382.60 H774.00 Q778.60,383.20 778.60,388.10 Q778.60,393.00 774.00,393.60 H740.8" fill="none" stroke="#0c0c0c" stroke-width="1.8" />
<line x1="775.00" y1="393.60" x2="775.00" y2="405.30" stroke="#0c0c0c" stroke-width="1.6" />
<path d="M740.8,405.30 H774.00 Q778.60,405.90 778.60,410.80 Q778.60,415.70 774.00,416.30 H740.8" fill="none" stroke="#0c0c0c" stroke-width="1.8" />
<line x1="775.00" y1="416.30" x2="775.00" y2="429.00" stroke="#0c0c0c" stroke-width="1.6" />
<path d="M740.8,429.00 H774.00 Q778.60,429.60 778.60,434.50 Q778.60,439.40 774.00,440.00 H740.8" fill="none" stroke="#0c0c0c" stroke-width="1.8" />
<line x1="775.00" y1="440.00" x2="775.00" y2="453.70" stroke="#0c0c0c" stroke-width="1.6" />
<path d="M740.8,453.70 H774.00 Q778.60,454.30 778.60,459.20 Q778.60,464.10 774.00,464.70 H740.8" fill="none" stroke="#0c0c0c" stroke-width="1.8" />
<line x1="775.00" y1="464.70" x2="775.00" y2="477.60" stroke="#0c0c0c" stroke-width="1.6" />
<path d="M740.8,477.60 H774.00 Q778.60,478.20 778.60,483.10 Q778.60,488.00 774.00,488.60 H740.8" fill="none" stroke="#0c0c0c" stroke-width="1.8" />
<line x1="775.00" y1="488.60" x2="775.00" y2="501.40" stroke="#0c0c0c" stroke-width="1.6" />
<path d="M740.8,501.40 H774.00 Q778.60,502.00 778.60,506.90 Q778.60,511.80 774.00,512.40 H740.8" fill="none" stroke="#0c0c0c" stroke-width="1.8" />
<line x1="775.00" y1="512.40" x2="775.00" y2="572.20" stroke="#0c0c0c" stroke-width="1.6" />
<circle cx="759.70" cy="447.20" r="4.40" fill="#fff" stroke="#0c0c0c" stroke-width="1.7"/>
<line x1="755.40" y1="446.80" x2="764.00" y2="446.80" stroke="#777" stroke-width="0.9" />
<path d="M779.2,304.4 H823 L827.4,309.8 V584 L822.2,589.6 H779.2" fill="none" stroke="#0c0c0c" stroke-width="1.9" />
<line x1="822.20" y1="304.40" x2="822.20" y2="589.60" stroke="#0c0c0c" stroke-width="1.7" />
<path d="M786,301.4 H816.2 Q819.4,301.4 819.4,304.6 V309.4 Q812.5,314.6 801.1,314.6 Q789.7,314.6 782.8,309.4 V304.6 Q782.8,301.4 786,301.4 Z" fill="#fff" stroke="#0c0c0c" stroke-width="1.7" />
<line x1="782.80" y1="309.30" x2="819.40" y2="309.30" stroke="#0c0c0c" stroke-width="1.2" />
<line x1="793.00" y1="303.00" x2="793.00" y2="312.60" stroke="#0c0c0c" stroke-width="1.2" />
<line x1="808.60" y1="303.00" x2="808.60" y2="312.60" stroke="#0c0c0c" stroke-width="1.2" />
<path d="M827.4,366.8 H831.4 Q833.6,366.8 833.6,369.0 V382.0 Q833.6,384.2 831.4,384.2 H827.4" fill="none" stroke="#0c0c0c" stroke-width="1.5" />
<path d="M827.4,524.2 H831.4 Q833.6,524.2 833.6,526.4000000000001 V535.8 Q833.6,538.0 831.4,538.0 H827.4" fill="none" stroke="#0c0c0c" stroke-width="1.5" />
<path d="M827.4,551.8 H831.4 Q833.6,551.8 833.6,554.0 V564.0 Q833.6,566.2 831.4,566.2 H827.4" fill="none" stroke="#0c0c0c" stroke-width="1.5" />
<path d="M697.8499999999999,578.2 V661.8 Q697.8499999999999,664.0 700.05,664.0 H732.55 Q734.75,664.0 734.75,661.8 V578.2" fill="none" stroke="#0c0c0c" stroke-width="2.1" />
<line x1="699.85" y1="664.00" x2="732.75" y2="664.00" stroke="#0c0c0c" stroke-width="2.7" />
<line x1="701.30" y1="664.00" x2="701.30" y2="669.60" stroke="#0c0c0c" stroke-width="1.6" />
<line x1="731.30" y1="664.00" x2="731.30" y2="669.60" stroke="#0c0c0c" stroke-width="1.6" />
<rect x="699.00" y="669.60" width="34.60" height="4.00" rx="2.0" fill="none" stroke="#0c0c0c" stroke-width="2.0"/>
<line x1="705.90" y1="673.60" x2="705.90" y2="750.90" stroke="#0c0c0c" stroke-width="2.0" />
<line x1="726.70" y1="673.60" x2="726.70" y2="750.90" stroke="#0c0c0c" stroke-width="2.0" />
<path d="M705.65,750.9 H726.9499999999999 Q728.4499999999999,750.9 728.4499999999999,752.4 V771.6 Q726.8499999999999,777.2 723.5,784.1999999999999 Q721.3,788.4 716.3,788.4 Q711.3,788.4 709.0999999999999,784.1999999999999 Q705.75,777.2 704.15,771.6 V752.4 Q704.15,750.9 705.65,750.9 Z" fill="none" stroke="#0c0c0c" stroke-width="2.0" />
<line x1="704.15" y1="771.60" x2="728.45" y2="771.60" stroke="#0c0c0c" stroke-width="2.0" />
<line x1="709.10" y1="784.20" x2="723.50" y2="784.20" stroke="#0c0c0c" stroke-width="1.5" />
<path d="M711.6999999999999,785.1999999999999 Q716.3,788.5999999999999 720.9,785.1999999999999" fill="none" stroke="#0c0c0c" stroke-width="1.0" />
<line x1="716.20" y1="850.40" x2="834.20" y2="850.40" stroke="#4f4f4f" stroke-width="1.5" />
<polygon points="716.20,850.40 739.20,854.30 739.20,846.50" fill="#555" stroke="none" stroke-width="0"/>
<polygon points="834.20,850.40 811.20,846.50 811.20,854.30" fill="#555" stroke="none" stroke-width="0"/>
<text x="738.50" y="837.60" font-size="32.5" font-weight="normal" fill="#1c1c1c" text-anchor="start"  stroke="#1c1c1c" stroke-width="0.6">25</text>
<text x="776.80" y="837.60" font-size="32.5" font-weight="normal" fill="#1c1c1c" text-anchor="start"  stroke="#1c1c1c" stroke-width="0.6">.</text>
<text x="796.50" y="837.60" font-size="32.5" font-weight="normal" fill="#1c1c1c" text-anchor="start"  stroke="#1c1c1c" stroke-width="0.6">6</text>
</svg>
</body></html>
